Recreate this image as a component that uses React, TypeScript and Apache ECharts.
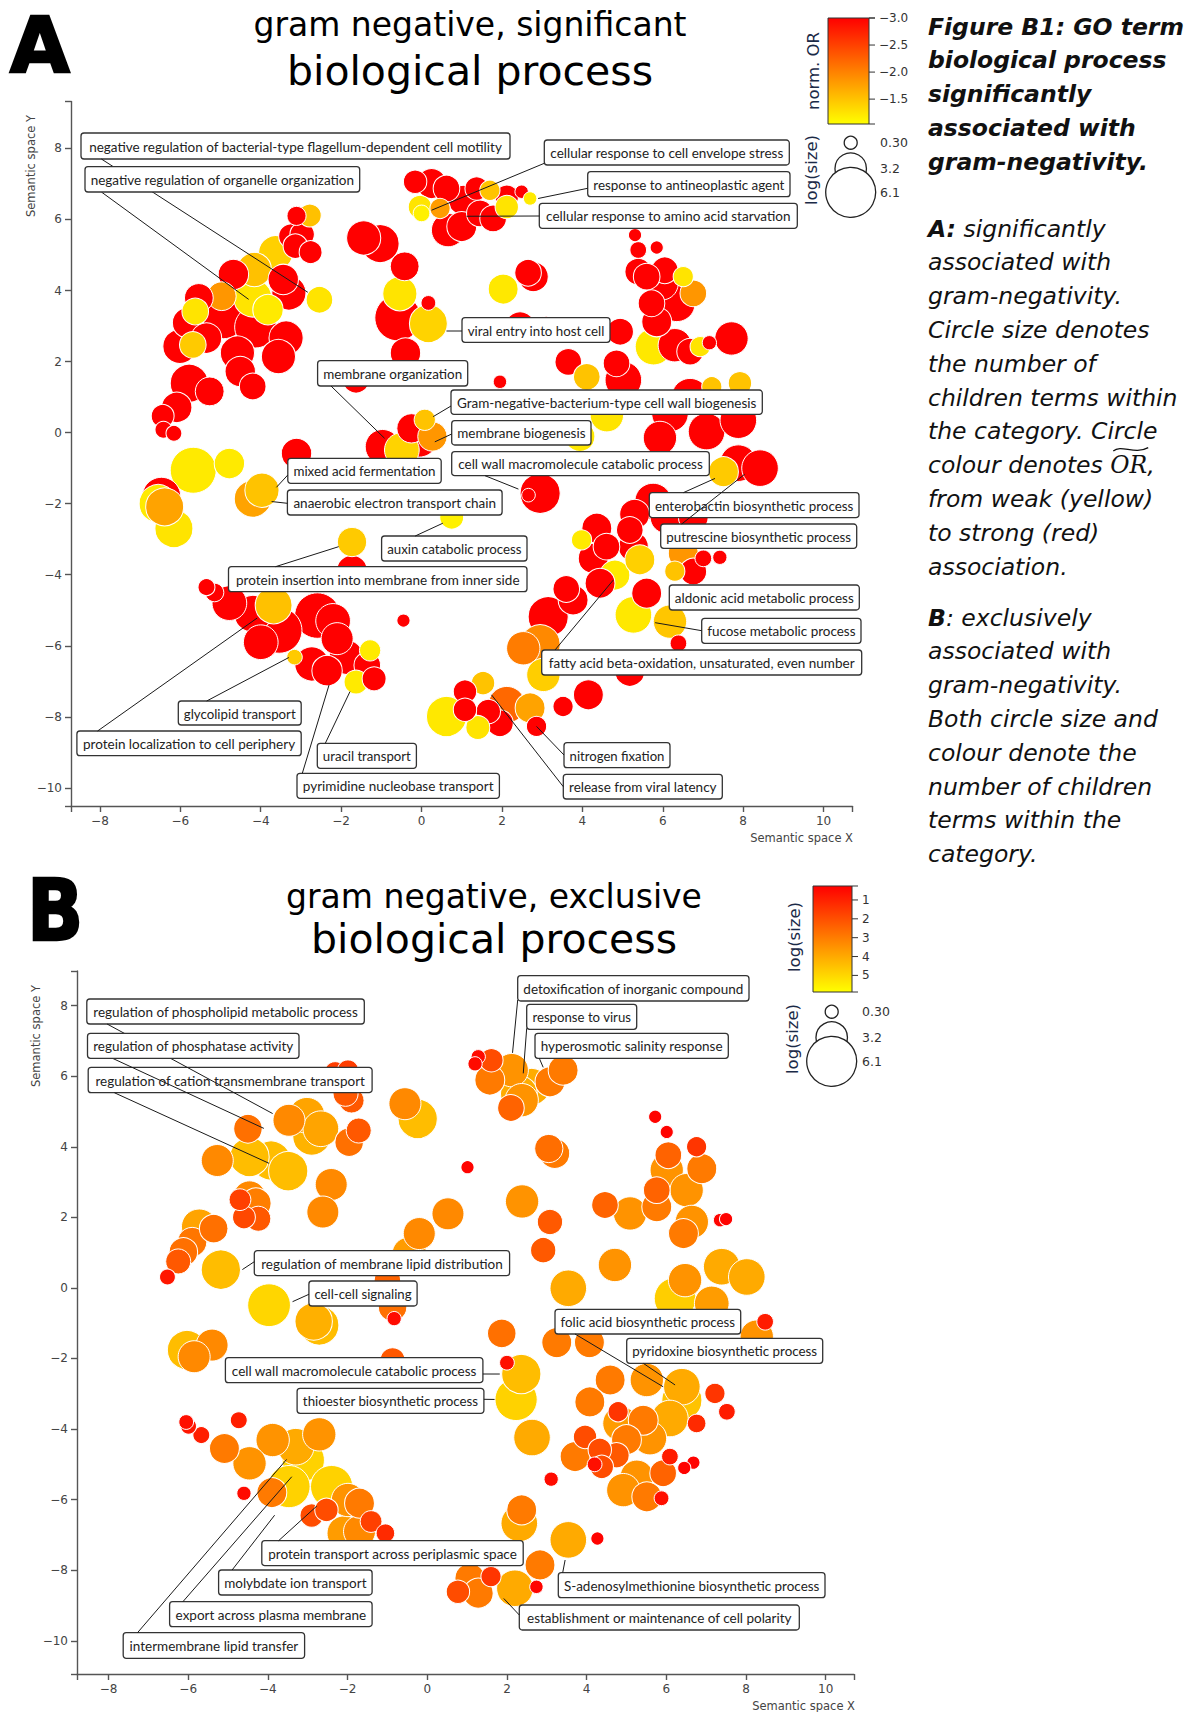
import { useEffect, useRef } from "react";
import * as echarts from "echarts";

const PAGE_W = 1195;
const PAGE_H = 1712;

// Panel A – GO biological-process terms significantly associated with gram-negativity.
// [semantic x, semantic y, log(size), norm. OR]
const bubblesA: number[][] = [
  // upper-left arm
  [-3.11, 6.1, 1.26, -3.0], [-2.78, 6.11, 1.85, -1.52], [-3.25, 5.53, 2.1, -3.0], [-2.97, 5.58, 2.1, -3.0],
  [-3.14, 5.25, 2.1, -3.0], [-2.76, 5.08, 1.85, -3.0], [-3.63, 5.06, 3.62, -1.4], [-4.16, 4.59, 3.62, -1.52],
  [-4.68, 4.45, 3.03, -3.0], [-3.44, 4.31, 3.03, -3.0], [-3.3, 3.93, 3.62, -3.0], [-4.2, 3.79, 4.21, -1.25],
  [-3.82, 3.46, 3.03, -1.2], [-4.97, 3.84, 2.78, -1.85], [-5.54, 3.79, 2.78, -3.0], [-2.54, 3.74, 2.44, -1.25],
  [-5.63, 3.41, 2.44, -1.25], [-5.82, 3.09, 3.03, -3.0], [-4.92, 3.23, 4.8, -3.0], [-4.13, 2.97, 4.8, -3.0],
  [-3.37, 2.66, 3.62, -3.0], [-5.35, 2.66, 3.03, -3.0], [-5.69, 2.47, 2.44, -1.45], [-6.01, 2.43, 3.62, -3.0],
  [-4.58, 2.24, 3.62, -3.0], [-3.56, 2.14, 3.62, -3.0], [-4.51, 1.72, 3.03, -3.0], [-4.2, 1.3, 2.44, -3.0],
  [-5.78, 1.39, 4.21, -3.0], [-5.27, 1.16, 2.78, -3.0], [-6.09, 0.71, 3.03, -3.0], [-6.44, 0.47, 1.85, -3.0],
  [-6.42, 0.08, 0.92, -3.0], [-6.16, -0.02, 0.75, -3.0],
  // middle column
  [-1.44, 5.48, 3.62, -3.0], [-1.03, 5.32, 4.21, -3.0], [-0.42, 4.68, 2.78, -3.0], [-0.54, 3.91, 3.62, -1.25],
  [-0.59, 3.23, 5.47, -3.0], [0.17, 3.65, 0.58, -3.0], [0.17, 3.07, 4.21, -1.38], [-0.4, 2.24, 3.03, -3.0],
  [-1.63, 1.49, 2.44, -3.0],
  // top cluster
  [-0.16, 7.06, 1.93, -3.0], [0.25, 7.01, 2.95, -3.0], [0.62, 6.87, 2.44, -3.0], [-0.04, 6.35, 1.93, -1.25],
  [0.0, 6.17, 0.88, -1.15], [0.46, 6.31, 1.43, -1.8], [1.04, 6.54, 2.95, -3.0], [0.66, 5.7, 3.49, -3.0],
  [1.37, 6.87, 1.93, -3.0], [1.7, 6.82, 1.43, -1.5], [2.12, 6.64, 1.93, -3.0], [2.49, 6.78, 0.37, -3.0],
  [2.7, 6.59, 0.37, -1.2], [2.12, 6.35, 1.93, -1.25], [1.45, 6.17, 2.44, -3.0], [1.78, 6.03, 2.44, -3.0],
  [1.0, 5.8, 2.95, -3.0],
  // upper-right cluster
  [5.31, 5.56, 0.33, -3.0], [5.85, 5.21, 0.33, -3.0], [5.39, 5.14, 0.88, -3.0], [5.39, 4.53, 2.44, -3.0],
  [6.05, 4.57, 2.44, -3.0], [5.6, 4.39, 2.44, -3.0], [6.51, 4.39, 1.43, -1.25], [5.97, 4.2, 3.49, -3.0],
  [6.76, 3.92, 2.44, -1.85], [5.72, 3.64, 2.44, -3.0], [6.35, 3.64, 4.0, -3.0], [5.85, 3.12, 2.95, -3.0],
  [5.77, 2.42, 4.0, -1.22], [6.3, 2.46, 3.49, -3.0], [6.68, 2.28, 2.44, -3.0], [6.93, 2.42, 1.43, -1.25],
  [7.16, 2.53, 0.5, -3.0], [7.71, 2.65, 3.49, -3.0],
  // scattered centre
  [2.65, 4.5, 2.44, -3.0], [2.78, 4.39, 2.95, -3.0], [2.03, 4.04, 2.95, -1.22], [2.45, 2.98, 2.95, -3.0],
  [3.1, 2.9, 2.44, -3.0], [4.94, 2.84, 2.44, -3.0], [3.65, 1.99, 2.44, -3.0], [4.11, 1.57, 2.44, -1.5],
  [4.85, 1.95, 2.44, -3.0], [5.02, 1.48, 4.0, -3.0], [1.95, 1.43, 0.37, -3.0], [6.68, 1.01, 4.0, -3.0],
  [7.22, 1.29, 1.43, -1.5], [7.92, 1.39, 1.93, -1.5], [6.18, 0.54, 4.0, -3.0], [5.93, -0.15, 3.49, -3.0],
  [7.09, 0.03, 4.0, -3.0], [7.88, 0.35, 4.0, -3.0], [3.94, -0.11, 2.95, -1.22], [4.61, 0.49, 3.49, -1.25],
  [2.95, -1.71, 4.55, -3.0], [2.66, -1.76, 0.4, -3.0],
  // membrane cluster
  [-0.97, -0.4, 3.7, -3.0], [-0.05, -0.2, 3.7, -3.0], [-0.49, -0.49, 3.7, -1.38], [-0.25, 0.12, 2.86, -3.0],
  [0.27, -0.11, 2.86, -1.85], [0.08, 0.36, 1.6, -1.5],
  // lower-left
  [-3.11, -0.59, 3.03, -3.0], [-5.68, -1.06, 5.47, -1.2], [-4.78, -0.87, 3.03, -1.2], [-6.55, -2.0, 4.25, -1.2],
  [-6.47, -1.8, 4.3, -3.0], [-6.16, -2.7, 4.22, -1.25], [-6.39, -2.09, 4.21, -1.75],
  [-4.2, -1.86, 4.04, -1.75], [-3.97, -1.62, 3.62, -1.5], [-1.73, -3.08, 2.86, -1.45], [0.75, -2.38, 2.02, -1.15],
  [-1.73, -3.88, 3.03, -3.0], [-5.35, -4.35, 0.92, -3.0], [-5.15, -4.5, 1.18, -3.0], [-4.78, -4.8, 3.7, -3.0],
  [-4.2, -5.1, 4.04, -3.0], [-3.68, -4.86, 4.04, -1.52], [-2.59, -5.15, 5.39, -3.0], [-3.54, -5.57, 5.39, -3.0],
  [-4.0, -5.9, 3.7, -3.0], [-2.2, -5.3, 3.7, -3.0], [-2.1, -5.8, 3.28, -3.0], [-1.87, -6.32, 3.62, -3.0],
  [-1.35, -6.55, 2.44, -3.0], [-1.28, -6.13, 1.6, -1.2], [-1.63, -7.02, 2.02, -1.2], [-1.18, -6.93, 2.02, -3.0],
  [-2.73, -6.51, 3.62, -3.0], [-2.35, -6.7, 3.03, -3.0], [-3.16, -6.32, 0.7, -1.45], [-0.45, -5.29, 0.33, -3.0],
  // lower-right arm
  [7.88, -0.86, 4.0, -3.0], [8.42, -1.0, 4.0, -3.0], [7.51, -1.1, 2.95, -1.45], [5.76, -1.94, 4.0, -3.0],
  [6.1, -2.37, 3.49, -3.0], [6.76, -2.37, 2.95, -3.0], [5.3, -2.3, 2.95, -3.0], [4.36, -2.69, 2.95, -3.0],
  [3.98, -3.02, 1.43, -1.2], [5.18, -2.74, 2.44, -3.0], [5.27, -3.21, 2.95, -3.0], [4.6, -3.21, 2.44, -3.0],
  [4.27, -3.54, 2.95, -3.0], [4.81, -4.01, 2.95, -1.2], [5.43, -3.58, 2.95, -1.4], [4.44, -4.24, 2.95, -3.0],
  [6.51, -3.4, 2.95, -1.85], [7.01, -3.54, 0.88, -3.0], [7.42, -3.51, 0.5, -3.0], [6.76, -3.91, 2.44, -3.0],
  [6.3, -3.9, 1.43, -1.5], [5.6, -4.52, 2.95, -3.0], [5.27, -5.13, 4.0, -1.22], [6.18, -5.32, 3.49, -1.48],
  [6.39, -5.93, 0.88, -3.0], [3.6, -4.4, 2.44, -3.0], [3.77, -4.71, 2.95, -3.0], [3.15, -5.18, 4.55, -3.0],
  [2.95, -5.97, 4.55, -1.95], [2.53, -6.07, 3.49, -2.05], [3.03, -6.82, 3.49, -1.42], [4.15, -7.38, 2.95, -3.0],
  [3.52, -7.71, 1.43, -3.0], [5.18, -6.72, 2.95, -3.0],
  // bottom cluster
  [1.53, -7.05, 1.93, -1.5], [1.08, -7.29, 1.93, -3.0], [0.62, -7.99, 4.55, -1.22], [1.08, -7.8, 1.93, -3.0],
  [1.66, -7.85, 2.1, -3.0], [2.12, -7.66, 4.0, -2.2], [2.7, -7.75, 2.95, -1.75], [1.95, -8.18, 2.44, -3.0],
  [2.86, -8.27, 1.43, -3.0], [1.4, -8.3, 2.02, -1.25],
];

// Panel B – terms exclusively associated with gram-negativity. [semantic x, semantic y, log(size)]
const bubblesB: number[][] = [
  [-2.31, 6.11, 1.6], [-1.99, 6.16, 1.6], [-2.15, 6.0, 1.85], [-1.9, 5.31, 2.19], [-2.05, 5.5, 2.19],
  [-1.72, 4.46, 2.19], [-1.96, 4.13, 2.73], [-3.02, 4.89, 3.87], [-2.67, 4.51, 3.87], [-2.9, 4.3, 4.21],
  [-3.47, 4.75, 3.28], [-4.5, 4.51, 2.73], [-3.92, 3.61, 4.42], [-3.49, 3.31, 4.42], [-4.46, 3.71, 4.42],
  [-5.27, 3.61, 3.28], [-4.46, 2.58, 3.28], [-4.3, 2.4, 3.03], [-4.24, 1.96, 2.19], [-4.6, 2.0, 1.85],
  [-4.7, 2.5, 1.68], [-2.41, 2.93, 3.28], [-2.62, 2.15, 3.28], [-5.72, 1.73, 3.87], [-5.36, 1.68, 2.73],
  [-5.9, 1.3, 2.86], [-6.12, 1.02, 2.73], [-6.25, 0.75, 2.19], [-6.52, 0.31, 0.75], [-5.18, 0.52, 4.42],
  [-3.97, -0.49, 4.97], [-2.85, -0.95, 4.13], [-2.71, -1.06, 4.42], [-0.87, -0.54, 2.73], [-0.83, -0.87, 0.5],
  [-0.56, 5.22, 3.28], [-0.24, 4.79, 4.42], [1.01, 3.42, 0.33], [-0.2, 1.54, 3.28], [0.52, 2.1, 3.28],
  [2.38, 2.45, 3.49], [1.87, -1.29, 2.73], [-6.03, -1.76, 4.42], [-5.4, -1.62, 3.28], [-5.85, -1.95, 3.28],
  [-0.87, -2.05, 2.19], [-0.45, 0.95, 3.7], [-1.0, 0.2, 2.44],
  // top centre
  [1.28, 6.55, 0.5], [1.2, 6.35, 0.5], [1.61, 6.45, 1.93], [1.57, 5.89, 2.95], [2.12, 6.17, 3.49],
  [2.62, 5.7, 4.04], [2.3, 5.5, 4.04], [2.37, 5.32, 3.49], [2.1, 5.1, 2.44], [3.08, 5.84, 2.95], [3.41, 6.17, 2.95],
  // right cluster
  [5.72, 4.85, 0.33], [6.01, 4.42, 0.33], [6.76, 4.0, 1.43], [6.05, 3.76, 2.44], [6.01, 3.34, 3.49],
  [6.89, 3.38, 2.95], [6.51, 2.77, 3.49], [5.76, 2.77, 2.44], [5.76, 2.3, 2.95], [5.09, 2.11, 3.49],
  [4.46, 2.35, 2.44], [6.64, 1.87, 3.49], [6.43, 1.54, 2.95], [7.35, 1.92, 0.37], [7.5, 1.95, 0.33],
  [3.08, 1.87, 2.23], [2.91, 1.07, 2.23], [3.05, 3.95, 2.69], [3.2, 3.81, 2.95], [4.71, 0.65, 3.49],
  [3.54, -0.01, 4.0], [6.47, 0.22, 3.49], [6.22, -0.3, 4.8], [7.39, 0.6, 4.0], [8.02, 0.31, 4.0],
  [7.14, -0.44, 3.7], [8.48, -0.96, 0.88], [8.27, -1.38, 3.49],
  // centre, lower
  [2.36, -2.44, 4.42], [2.0, -2.12, 0.58], [2.23, -3.16, 4.88], [2.63, -4.24, 4.0], [3.11, -5.42, 0.5],
  // lower-left cluster
  [-2.71, -4.15, 3.49], [-3.88, -4.31, 3.49], [-3.3, -4.5, 4.0], [-3.11, -4.88, 4.88], [-4.46, -4.97, 3.49],
  [-5.09, -4.55, 2.95], [-4.73, -3.75, 0.92], [-5.99, -3.92, 0.75], [-6.05, -3.8, 0.58], [-5.67, -4.17, 0.92],
  [-4.6, -5.82, 0.5], [-3.9, -5.8, 2.95], [-3.47, -5.63, 4.88], [-2.4, -5.63, 4.88], [-1.99, -6.01, 3.49],
  [-1.7, -6.1, 2.95], [-2.08, -6.95, 3.7], [-1.7, -6.9, 3.28], [-2.9, -6.45, 1.93], [-2.53, -6.29, 1.93],
  [-1.41, -6.62, 1.68], [-1.05, -6.95, 1.18],
  // lower-right cluster
  [3.25, -1.55, 2.95], [4.07, -1.55, 2.95], [4.59, -2.61, 2.95], [4.08, -3.23, 2.95], [5.51, -2.61, 3.49],
  [6.39, -2.8, 4.0], [6.39, -3.18, 4.55], [6.09, -3.7, 4.0], [7.22, -2.99, 1.43], [7.52, -3.51, 0.88],
  [6.76, -3.84, 1.18], [4.79, -3.51, 1.43], [5.42, -3.75, 2.95], [5.59, -4.26, 3.49], [4.84, -3.84, 3.7],
  [5.0, -4.3, 2.95], [3.96, -4.22, 1.93], [4.33, -4.59, 1.93], [3.71, -4.78, 2.95], [4.75, -4.74, 2.23],
  [4.38, -5.07, 1.93], [4.2, -5.0, 0.58], [6.09, -4.78, 0.88], [6.68, -4.95, 0.33], [6.45, -5.1, 0.33],
  [5.92, -5.25, 2.44], [5.26, -5.35, 3.49], [4.92, -5.73, 3.49], [5.51, -5.92, 2.95], [5.88, -5.96, 0.58],
  // bottom cluster
  [2.37, -6.29, 2.95], [2.31, -6.67, 4.0], [3.54, -7.14, 4.0], [4.27, -7.1, 0.33], [2.83, -7.85, 2.95],
  [2.2, -8.51, 4.0], [1.6, -8.18, 1.43], [1.07, -8.23, 2.95], [1.28, -8.65, 2.95], [0.77, -8.61, 1.93],
  [2.74, -8.47, 0.37],
];

// Axis ticks and legend values
const xTicks = [-8, -6, -4, -2, 0, 2, 4, 6, 8, 10];
const yTicks = [-10, -8, -6, -4, -2, 0, 2, 4, 6, 8];
const xExtentA = [-8.72, 10.72];
const yExtentA = [-10.51, 9.32];
const xExtentB = [-8.79, 10.71];
const yExtentB = [-10.94, 8.98];
const orTicks = [-3.0, -2.5, -2.0, -1.5];
const orDomain = [-3.0, -1.04];
const logSizeTicks = [1, 2, 3, 4, 5];
const logSizeDomain = [0.26, 5.88];
const sizeLegendValues = [0.3, 3.2, 6.1];

// Labelled terms and the semantic-space point each label points at
const termsA = [
  "negative regulation of bacterial-type flagellum-dependent cell motility",
  "negative regulation of organelle organization",
  "cellular response to cell envelope stress",
  "response to antineoplastic agent",
  "cellular response to amino acid starvation",
  "viral entry into host cell",
  "membrane organization",
  "Gram-negative-bacterium-type cell wall biogenesis",
  "membrane biogenesis",
  "cell wall macromolecule catabolic process",
  "mixed acid fermentation",
  "anaerobic electron transport chain",
  "auxin catabolic process",
  "protein insertion into membrane from inner side",
  "enterobactin biosynthetic process",
  "putrescine biosynthetic process",
  "aldonic acid metabolic process",
  "fucose metabolic process",
  "fatty acid beta-oxidation, unsaturated, even number",
  "glycolipid transport",
  "protein localization to cell periphery",
  "uracil transport",
  "pyrimidine nucleobase transport",
  "nitrogen fixation",
  "release from viral latency",
];
const anchorsA: (number[] | null)[] = [
  [-2.83, 3.95], [-4.3, 3.75], [0.25, 6.26], [2.9, 6.59], [1.12, 6.09], [0.62, 2.86], [-0.92, -0.16],
  [0.29, 0.45], [0.33, -0.26], [2.41, -1.59], [-3.61, -1.54], [-3.73, -1.94], [0.53, -2.55], [-2.06, -3.21],
  [7.3, -1.29], [8.04, -1.17], null, [5.81, -5.35], [4.77, -4.15], [-3.3, -6.33], [-4.09, -5.22],
  [-1.78, -7.29], [-2.3, -7.1], [2.86, -8.27], [1.74, -7.38],
];
const termsB = [
  "regulation of phospholipid metabolic process",
  "regulation of phosphatase activity",
  "regulation of cation transmembrane transport",
  "detoxification of inorganic compound",
  "response to virus",
  "hyperosmotic salinity response",
  "regulation of membrane lipid distribution",
  "cell-cell signaling",
  "folic acid biosynthetic process",
  "pyridoxine biosynthetic process",
  "cell wall macromolecule catabolic process",
  "thioester biosynthetic process",
  "protein transport across periplasmic space",
  "molybdate ion transport",
  "export across plasma membrane",
  "intermembrane lipid transfer",
  "S-adenosylmethionine biosynthetic process",
  "establishment or maintenance of cell polarity",
];
const anchorsB: (number[] | null)[] = [
  [-3.88, 4.94], [-4.1, 4.52], [-3.97, 3.53], [2.14, 6.66], [2.41, 6.08], [2.91, 6.25], [-4.64, 0.52],
  [-3.38, -0.39], [5.92, -2.8], [6.22, -2.75], [1.82, -2.44], [1.69, -3.16], [-2.77, -6.18], [-3.83, -6.44],
  [-3.4, -5.35], [-3.53, -4.86], [3.46, -7.71], [1.92, -8.8],
];

// Label box placement: [left, top, right, bottom, leader start x, leader start y, raised]
const boxesA = [
  [81, 133, 510, 159, 101.4, 159, 0],
  [85, 166.7, 359.7, 192, 101.4, 192, 1],
  [544.3, 140, 789.3, 165, 544.3, 163.3, 0],
  [587.7, 171.7, 790, 196.7, 587.7, 188.3, 0],
  [539.3, 203.3, 797.3, 228.3, 539.3, 216, 0],
  [462, 317.7, 610, 342.3, 462, 331, 0],
  [317.6, 360.7, 467.7, 386, 331, 386, 0],
  [451, 390, 762.3, 414.3, 451, 406, 0],
  [451.7, 420.7, 591, 445, 451.7, 434, 0],
  [451.7, 451.7, 709.3, 475.7, 485, 475.7, 0],
  [287.8, 458.3, 441.2, 483.3, 287.8, 475, 0],
  [287.4, 490, 502.1, 515, 287.4, 503.3, 0],
  [381.6, 536, 527, 561, 415.2, 536, 0],
  [228.5, 566.7, 527, 591.7, 275.5, 566.7, 0],
  [649.3, 492.7, 859, 517.7, 683.3, 492.7, 0],
  [660.7, 524, 856.7, 548.3, 681.7, 524, 0],
  [669.3, 585, 859.3, 610, 669.3, 597, 0],
  [701.7, 618.3, 861, 643.3, 701.7, 630.7, 0],
  [541.7, 650, 861.7, 675, 555, 650, 0],
  [178.3, 701, 301.2, 725, 206.7, 701, 0],
  [76.9, 731, 301.2, 755.7, 97.6, 731, 0],
  [317.3, 743.3, 416.4, 768.3, 325.3, 743.3, 0],
  [297, 773.3, 499.4, 798.3, 302.3, 773.3, 0],
  [564, 742.7, 670, 767.7, 564, 755, 0],
  [563.3, 774.3, 722.3, 799, 563.3, 786.7, 0],
];
const boxesB = [
  [86.8, 999, 364.3, 1024, 107.1, 1024, 0],
  [87.5, 1033.3, 299, 1058.3, 112.5, 1058.3, 1],
  [88.2, 1067.3, 372.1, 1092.7, 114.3, 1092.7, 0],
  [517.7, 975.7, 749, 1001, 517.7, 1000, 0],
  [526.7, 1004.3, 636.7, 1029.3, 526.7, 1028.3, 0],
  [535, 1033.3, 728.3, 1058.3, 539.3, 1058.3, 0],
  [254.3, 1250.7, 509.6, 1275.7, 254.3, 1261.7, 0],
  [308.9, 1281, 417.1, 1306, 308.9, 1294.3, 0],
  [555, 1309.3, 740.7, 1334, 575, 1334, 0],
  [626.7, 1338.3, 822.7, 1363.3, 643.3, 1363.3, 0],
  [225.4, 1357.7, 482.9, 1382.7, 482.9, 1374, 0],
  [297.1, 1388.3, 483.9, 1413.3, 483.9, 1399.3, 0],
  [261.8, 1540.7, 523.2, 1565.7, 278.6, 1540.7, 0],
  [218.6, 1570, 372.1, 1595, 232.1, 1570, 0],
  [169.6, 1601.7, 372.1, 1626.7, 182.9, 1601.7, 0],
  [123.2, 1632.7, 304.6, 1658.3, 137.5, 1632.7, 0],
  [558.3, 1572.7, 825, 1597.7, 562.7, 1572.7, 0],
  [519.3, 1605, 799.3, 1630, 519.3, 1615, 0],
];

// Caption text on the right
const captionTitle = ["Figure B1: GO term", "biological process", "significantly", "associated with", "gram-negativity."];
const captionA = [
  "significantly", "associated with", "gram-negativity.", "Circle size denotes", "the number of",
  "children terms within", "the category. Circle", "colour denotes ", "from weak (yellow)", "to strong (red)", "association.",
];
const captionB = [
  ": exclusively", "associated with", "gram-negativity.", "Both circle size and", "colour denote the",
  "number of children", "terms within the", "category.",
];

const FONT = "'DejaVu Sans', Verdana, sans-serif";
const LABEL_FONT = "Lato, 'Open Sans', sans-serif";
const GRADIENT = ["#ff0000", "#ffff00"];

const gridA = { left: 71, top: 101.5, width: 781.5, height: 704.5 };
const gridB = { left: 77, top: 971, width: 777, height: 703 };

const radiusOf = (v: number) => 5.54 + 3.19 * Math.max(v, 0);
const fmtTick = (v: number) => (v < 0 ? "\u2212" + Math.abs(v) : String(v));
const fmtOr = (v: number) => "\u2212" + Math.abs(v).toFixed(1);

let measureCtx: CanvasRenderingContext2D | null = null;
function textWidth(text: string, font: string) {
  if (!measureCtx) measureCtx = document.createElement("canvas").getContext("2d");
  if (!measureCtx) return text.length * 6;
  measureCtx.font = font;
  return measureCtx.measureText(text).width;
}

function axisX(gridIndex: number, ext: number[]) {
  return {
    type: "value", gridIndex, min: ext[0], max: ext[1],
    splitLine: { show: false },
    axisLine: { show: true, onZero: false, lineStyle: { color: "#555", width: 1.4 } },
    axisTick: { show: true, length: 6, customValues: [ext[0], ...xTicks, ext[1]], lineStyle: { color: "#555", width: 1.4 } },
    axisLabel: { customValues: xTicks, formatter: fmtTick, color: "#444", fontSize: 12, fontFamily: FONT, margin: 9 },
  };
}
function axisY(gridIndex: number, ext: number[]) {
  return {
    type: "value", gridIndex, min: ext[0], max: ext[1],
    splitLine: { show: false },
    axisLine: { show: true, onZero: false, lineStyle: { color: "#555", width: 1.4 } },
    axisTick: { show: true, length: 6, customValues: [ext[0], ...yTicks, ext[1]], lineStyle: { color: "#555", width: 1.4 } },
    axisLabel: { customValues: yTicks, formatter: fmtTick, color: "#444", fontSize: 12, fontFamily: FONT, margin: 9 },
  };
}

// larger circles first so that small terms stay visible on top
const bySizeDesc = (rows: number[][]) => [...rows].sort((a, b) => b[2] - a[2]);

function buildOption() {
  return {
    animation: false,
    backgroundColor: "#ffffff",
    grid: [gridA, gridB],
    xAxis: [axisX(0, xExtentA), axisX(1, xExtentB)],
    yAxis: [axisY(0, yExtentA), axisY(1, yExtentB)],
    visualMap: [
      { type: "continuous", show: false, seriesIndex: 0, dimension: 3, min: orDomain[0], max: orDomain[1], inRange: { color: GRADIENT } },
      { type: "continuous", show: false, seriesIndex: 1, dimension: 2, min: logSizeDomain[0], max: logSizeDomain[1], inRange: { color: GRADIENT } },
    ],
    series: [
      {
        type: "scatter", xAxisIndex: 0, yAxisIndex: 0, silent: true,
        data: bySizeDesc(bubblesA),
        symbolSize: (d: number[]) => 2 * radiusOf(d[2]),
        itemStyle: { borderColor: "#ffffff", borderWidth: 1, opacity: 1 },
      },
      {
        type: "scatter", xAxisIndex: 1, yAxisIndex: 1, silent: true,
        data: bySizeDesc(bubblesB),
        symbolSize: (d: number[]) => 2 * radiusOf(d[2]),
        itemStyle: { borderColor: "#ffffff", borderWidth: 1, opacity: 1 },
      },
    ],
  };
}

function text(t: string, x: number, y: number, extra: any = {}) {
  return {
    type: "text", silent: true,
    style: { text: t, x, y, fill: "#111", fontFamily: FONT, fontSize: 12, align: "left", verticalAlign: "middle", ...extra },
  };
}
function vtext(t: string, x: number, y: number, extra: any = {}) {
  return {
    type: "text", silent: true, x, y, rotation: Math.PI / 2,
    style: { text: t, x: 0, y: 0, fill: "#1b2a47", fontFamily: FONT, fontSize: 16.5, align: "center", verticalAlign: "middle", ...extra },
  };
}
function line(x1: number, y1: number, x2: number, y2: number, stroke = "#333", width = 1, z = 0) {
  return { type: "line", silent: true, z, shape: { x1, y1, x2, y2 }, style: { stroke, lineWidth: width } };
}

function colourBar(bar: any, ticks: number[], fmt: (v: number) => string) {
  const els: any[] = [];
  els.push({
    type: "rect", silent: true,
    shape: { x: bar.x, y: bar.y, width: bar.w, height: bar.h },
    style: {
      fill: new echarts.graphic.LinearGradient(0, 0, 0, 1, [
        { offset: 0, color: GRADIENT[0] },
        { offset: 1, color: GRADIENT[1] },
      ]),
      stroke: "#333", lineWidth: 1,
    },
  });
  const toY = (v: number) => bar.y + ((v - bar.min) / (bar.max - bar.min)) * bar.h;
  const right = bar.x + bar.w;
  els.push(line(right, bar.y, right + 6, bar.y, "#333", 1));
  els.push(line(right, bar.y + bar.h, right + 6, bar.y + bar.h, "#333", 1));
  ticks.forEach((v) => {
    const y = toY(v);
    els.push(line(right, y, right + 6, y, "#333", 1));
    els.push(text(fmt(v), right + 10, y, { fontSize: 12, fill: "#333" }));
  });
  return els;
}

function sizeLegend(cx: number, cys: number[], labelX: number) {
  const els: any[] = [];
  sizeLegendValues.forEach((v, i) => {
    els.push({
      type: "circle", silent: true,
      shape: { cx, cy: cys[i], r: radiusOf(v) },
      style: { fill: "#ffffff", stroke: "#222", lineWidth: 1.3 },
    });
  });
  sizeLegendValues.forEach((v, i) => {
    els.push(text(v === 0.3 ? "0.30" : v.toFixed(1), labelX, cys[i], { fontSize: 12.5, fill: "#333" }));
  });
  return els;
}

function labelElements(chart: any, gridIndex: number, terms: string[], anchors: (number[] | null)[], boxes: number[][]) {
  const els: any[] = [];
  terms.forEach((term, i) => {
    const [L, T, R, B, sx, sy, raised] = boxes[i];
    const zBox = raised ? 13 : 10;
    const w = R - L;
    const fs = Math.min(13.5, (13.5 * (w - 11)) / textWidth(term, `13.5px ${LABEL_FONT}`));
    els.push({
      type: "rect", silent: true, z: zBox,
      shape: { x: L, y: T, width: w, height: B - T, r: 3 },
      style: { fill: "#ffffff", stroke: "#333", lineWidth: 1.3 },
    });
    els.push({
      type: "text", silent: true, z: zBox + 1,
      style: { text: term, x: (L + R) / 2, y: (T + B) / 2 + 0.5, align: "center", verticalAlign: "middle", fontSize: fs, fontFamily: LABEL_FONT, fill: "#222" },
    });
    const a = anchors[i];
    if (a) {
      const p = chart.convertToPixel({ gridIndex }, a);
      if (p) els.push(line(sx, sy, p[0], p[1], "#1a1a1a", 1, 12));
    }
  });
  return els;
}

function captionElements() {
  const els: any[] = [];
  const X = 928;
  const FS = 23.5;
  const bold = { fontWeight: "bold", fontStyle: "italic", fontSize: FS, fontFamily: FONT, fill: "#111" };
  const ital = { fontStyle: "italic", fontSize: FS, fontFamily: FONT, fill: "#111" };
  captionTitle.forEach((t, i) => els.push(text(t, X, 26.5 + i * 33.8, bold)));
  captionA.forEach((t, i) => {
    const y = 228.5 + i * 33.8;
    if (i === 0) {
      els.push({
        type: "text", silent: true,
        style: { text: "{b|A:}{n| " + t + "}", x: X, y, align: "left", verticalAlign: "middle", fontSize: FS, fontFamily: FONT, rich: { b: bold, n: ital } },
      });
    } else if (i === 7) {
      els.push(text(t, X, y, ital));
      const x0 = X + textWidth(t, `italic ${FS}px 'DejaVu Sans'`);
      const orFont = { fontStyle: "italic", fontSize: FS, fontFamily: "'DejaVu Serif', serif", fill: "#111" };
      els.push(text("OR", x0, y, orFont));
      const w = textWidth("OR", `italic ${FS}px 'DejaVu Serif'`);
      els.push(text(",", x0 + w, y, ital));
      const ty = y - 16;
      els.push({
        type: "bezierCurve", silent: true,
        shape: { x1: x0 + 3, y1: ty + 2, cpx1: x0 + w * 0.3, cpy1: ty - 5, cpx2: x0 + w * 0.65, cpy2: ty + 6, x2: x0 + w + 1, y2: ty - 1.5 },
        style: { stroke: "#111", lineWidth: 1.3, fill: null },
      });
    } else {
      els.push(text(t, X, y, ital));
    }
  });
  captionB.forEach((t, i) => {
    const y = 617.5 + i * 33.8;
    if (i === 0) {
      els.push({
        type: "text", silent: true,
        style: { text: "{b|B}{n|" + t + "}", x: X, y, align: "left", verticalAlign: "middle", fontSize: FS, fontFamily: FONT, rich: { b: bold, n: ital } },
      });
    } else {
      els.push(text(t, X, y, ital));
    }
  });
  return els;
}

function buildGraphics(chart: any) {
  const els: any[] = [];
  // panel letters
  els.push({
    type: "text", silent: true, x: 10, y: 45, scaleX: 1.0,
    style: { text: "A", x: 0, y: 0, fontSize: 77, fontWeight: "bold", fontFamily: FONT, fill: "#000", stroke: "#000", lineWidth: 2.5, align: "left", verticalAlign: "middle" },
  });
  els.push({
    type: "text", silent: true, x: 27, y: 911, scaleX: 0.86,
    style: { text: "B", x: 0, y: 0, fontSize: 86, fontWeight: "bold", fontFamily: FONT, fill: "#000", stroke: "#000", lineWidth: 2.5, align: "left", verticalAlign: "middle" },
  });
  // titles
  els.push(text("gram negative, significant", 470, 24.6, { fontSize: 33, align: "center", fill: "#000" }));
  els.push(text("biological process", 470, 71, { fontSize: 41, align: "center", fill: "#000" }));
  els.push(text("gram negative, exclusive", 494, 896.3, { fontSize: 33, align: "center", fill: "#000" }));
  els.push(text("biological process", 494, 938.8, { fontSize: 41, align: "center", fill: "#000" }));
  // axis names
  els.push(vtext("Semantic space Y", 30.5, 166, { fontSize: 11.5, fill: "#444" }));
  els.push(text("Semantic space X", 853, 838, { fontSize: 11.5, fill: "#444", align: "right" }));
  els.push(vtext("Semantic space Y", 36, 1036, { fontSize: 11.5, fill: "#444" }));
  els.push(text("Semantic space X", 855, 1706, { fontSize: 11.5, fill: "#444", align: "right" }));
  // panel A legends
  els.push(...colourBar({ x: 828, y: 18, w: 41, h: 106, min: orDomain[0], max: orDomain[1] }, orTicks, fmtOr));
  els.push(vtext("norm. OR", 813, 71));
  els.push(vtext("log(size)", 811, 170));
  els.push(...sizeLegend(850.7, [142.7, 168.7, 192.3], 880));
  // panel B legends
  els.push(...colourBar({ x: 813, y: 886, w: 39, h: 106, min: logSizeDomain[0], max: logSizeDomain[1] }, logSizeTicks, (v) => String(v)));
  els.push(vtext("log(size)", 794, 937));
  els.push(vtext("log(size)", 792, 1039));
  els.push(...sizeLegend(831.7, [1011.7, 1037.5, 1061.3], 862));
  // caption
  els.push(...captionElements());
  // labels with leader lines
  els.push(...labelElements(chart, 0, termsA, anchorsA, boxesA));
  els.push(...labelElements(chart, 1, termsB, anchorsB, boxesB));
  return els;
}

export default function App() {
  const ref = useRef<HTMLDivElement>(null);
  useEffect(() => {
    const el = ref.current;
    if (!el) return;
    const chart = echarts.init(el, undefined, { renderer: "svg", width: PAGE_W, height: PAGE_H });
    chart.setOption(buildOption() as any);
    chart.setOption({ graphic: { elements: buildGraphics(chart) } } as any);
    return () => chart.dispose();
  }, []);
  return (
    <div
      ref={ref}
      style={{ position: "absolute", left: 0, top: 0, width: PAGE_W, height: PAGE_H, background: "#ffffff" }}
    />
  );
}
